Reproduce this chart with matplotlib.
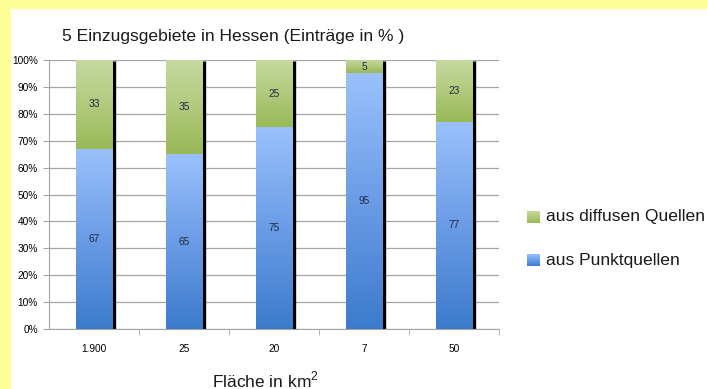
import matplotlib
matplotlib.use("Agg")
import matplotlib.pyplot as plt
import numpy as np
from matplotlib.colors import LinearSegmentedColormap
from matplotlib.patches import Rectangle

categories = ["1.900", "25", "20", "7", "50"]
punkt = [67, 65, 75, 95, 77]
diffus = [33, 35, 25, 5, 23]
title = "5 Einzugsgebiete in Hessen (Einträge in % )"
xlabel = "Fläche in km$^2$"
series_names = ["aus diffusen Quellen", "aus Punktquellen"]

plt.rcParams['font.family'] = ['Liberation Sans', 'DejaVu Sans']
plt.rcParams['mathtext.fontset'] = 'custom'
plt.rcParams['mathtext.rm'] = 'Liberation Sans'

W, H = 707, 389
fig = plt.figure(figsize=(W / 100, H / 100), dpi=100)
fig.patch.set_facecolor("#FFFF99")
# white chart area
fig.patches.append(Rectangle((11 / W, 0), 1 - 11 / W, 1 - 9 / H, transform=fig.transFigure,
                             facecolor="white", edgecolor="none", zorder=-10))

x0, x1 = 49, 499
y0, y1 = 329, 60
ax = fig.add_axes([x0 / W, 1 - y0 / H, (x1 - x0) / W, (y0 - y1) / H])
ax.set_facecolor("none")

blue_cmap = LinearSegmentedColormap.from_list("b", ["#3C7BCC", "#6B9CE6", "#9AC1FC"])
green_cmap = LinearSegmentedColormap.from_list("g", ["#99B957", "#B1CA7D", "#C6D9A0"])

xs = np.arange(len(categories))
bw = 0.41
grad = np.linspace(0, 1, 256).reshape(-1, 1)

bars_p = ax.bar(xs, punkt, width=bw, color="#6B9CE6", edgecolor="none", zorder=3)
bars_d = ax.bar(xs, diffus, bottom=punkt, width=bw, color="#B1CA7D", edgecolor="none", zorder=3)

for bars, cmap in ((bars_p, blue_cmap), (bars_d, green_cmap)):
    for b in bars:
        x, y, w, h = b.get_x(), b.get_y(), b.get_width(), b.get_height()
        im = ax.imshow(grad, cmap=cmap, origin="lower", aspect="auto",
                       extent=(x, x + w, y, y + h), zorder=3.5)
        im.set_clip_path(b)

ax.set_xlim(-0.5, len(categories) - 0.5)
ax.set_ylim(0, 100)

# shadow line on the right of each bar
for b_p, b_d in zip(bars_p, bars_d):
    xr = b_p.get_x() + b_p.get_width()
    ax.plot([xr + 0.018, xr + 0.018], [0, b_d.get_y() + b_d.get_height() - 0.4],
            color="black", lw=2.4, solid_capstyle="butt", zorder=2.5)

for i in range(len(categories)):
    ax.text(xs[i], punkt[i] * 0.5, str(punkt[i]), ha="center", va="center",
            fontsize=7.3, color="#1F2A44", zorder=5)
    ax.text(xs[i], punkt[i] + diffus[i] * 0.5, str(diffus[i]), ha="center", va="center",
            fontsize=7.3, color="#1F2A44", zorder=5)

ax.set_yticks(np.arange(0, 101, 10))
ax.set_yticklabels([f"{v}%" for v in range(0, 101, 10)], fontsize=7.3)
ax.yaxis.grid(True, color="#A6A6A6", lw=0.9, zorder=1)
ax.set_axisbelow(True)
ax.set_xticks(xs)
ax.set_xticklabels(categories, fontsize=7.3)
ax.tick_params(axis="x", length=0, pad=11)
ax.set_xticks(np.arange(0.5, len(categories) - 0.5 + 0.01, 1), minor=True)
ax.tick_params(axis="x", which="minor", length=4, color="#A6A6A6", direction="out")
ax.tick_params(axis="y", length=4, color="#A6A6A6", pad=4)
for s in ("top", "right"):
    ax.spines[s].set_visible(False)
ax.spines["left"].set_color("#A6A6A6")
ax.spines["bottom"].set_color("#A6A6A6")

fig.text(62 / W, 1 - 36 / H, title, fontsize=12.6, ha="left", va="center", color="#1A1A1A")
fig.text(212 / W, 1 - 380 / H, xlabel, fontsize=12.5, ha="left", va="center", color="#1A1A1A")

# legend
leg_items = [(series_names[0], green_cmap, 217), (series_names[1], blue_cmap, 260)]
for name, cmap, yc in leg_items:
    lax = fig.add_axes([527 / W, 1 - (yc + 6) / H, 13 / W, 12 / H])
    lax.imshow(grad, cmap=cmap, origin="lower", aspect="auto")
    lax.axis("off")
    fig.text(546 / W, 1 - yc / H, name, fontsize=12.6, ha="left", va="center", color="#1A1A1A")

fig.savefig("out.png", dpi=100, facecolor=fig.get_facecolor())
